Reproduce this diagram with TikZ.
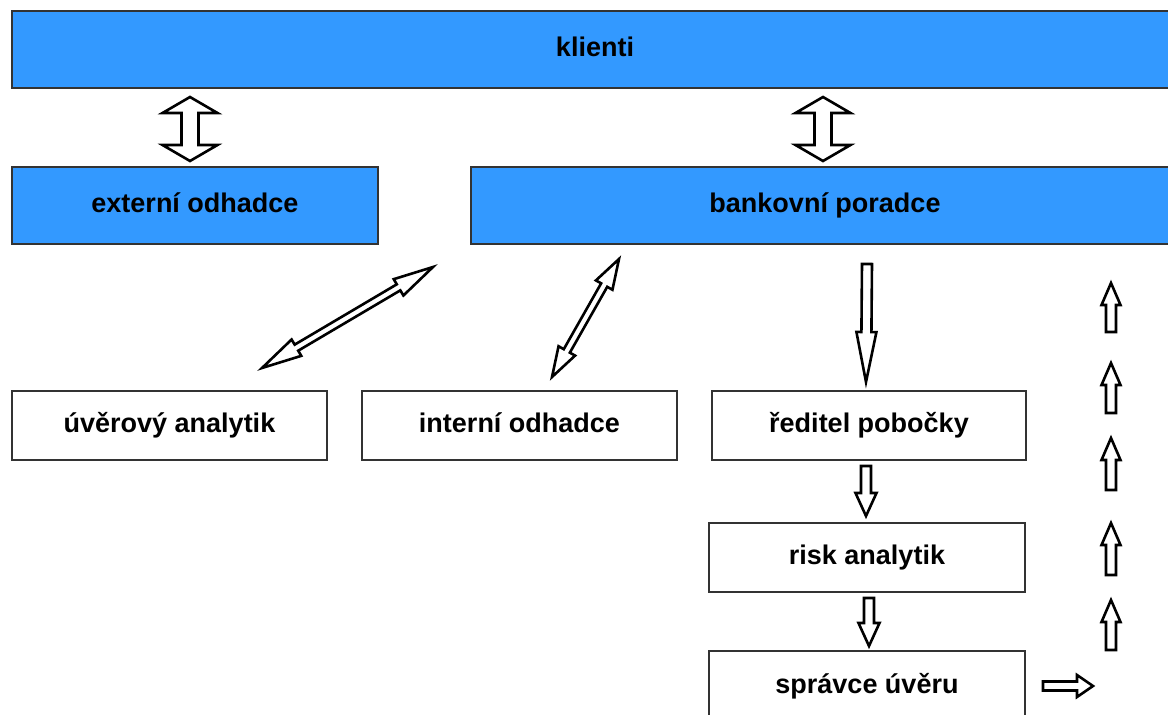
\documentclass[tikz,border=0pt]{standalone}
\usepackage{fontspec}
\setmainfont{Liberation Sans}
\usetikzlibrary{calc}
\definecolor{boxblue}{HTML}{3399FF}
\definecolor{boxedge}{HTML}{333333}

% Outlined block arrow from tail #1 to tip #2:
% #3 shaft half width, #4 head half width, #5 head length
\newcommand{\onewayarrow}[5]{%
  \coordinate (hb) at ($(#2)!#5!(#1)$);
  \draw[blockarrow] ($(#1)!#3!90:(#2)$) -- ($(hb)!#3!90:(#2)$) -- ($(hb)!#4!90:(#2)$)
    -- (#2) -- ($(hb)!#4!-90:(#2)$) -- ($(hb)!#3!-90:(#2)$) -- ($(#1)!#3!-90:(#2)$) -- cycle;
}
% Outlined block arrow with heads at both ends #1 and #2
\newcommand{\twowayarrow}[5]{%
  \coordinate (ha) at ($(#1)!#5!(#2)$);
  \coordinate (hb) at ($(#2)!#5!(#1)$);
  \draw[blockarrow] (#1) -- ($(ha)!#4!90:(#1)$) -- ($(ha)!#3!90:(#1)$)
    -- ($(hb)!#3!-90:(#2)$) -- ($(hb)!#4!-90:(#2)$) -- (#2)
    -- ($(hb)!#4!90:(#2)$) -- ($(hb)!#3!90:(#2)$)
    -- ($(ha)!#3!-90:(#1)$) -- ($(ha)!#4!-90:(#1)$) -- cycle;
}

\begin{document}
\begin{tikzpicture}[x=1pt,y=-1pt,
  box/.style={draw=boxedge, line width=1.3pt, rectangle, inner sep=0pt,
    font=\fontsize{27}{32}\selectfont\bfseries, text=black,
    text height=20pt, text depth=6pt},
  bluebox/.style={box, fill=boxblue},
  whitebox/.style={box, fill=white},
  blockarrow/.style={draw=black, fill=white, line width=2.6pt, line join=miter}]

\useasboundingbox (0,0) rectangle (1168,715);
\clip (0,0) rectangle (1168,715);

% blue role boxes
\node[bluebox, minimum width=1166pt, minimum height=77pt] (klienti) at (595,49.5) {klienti};
\node[bluebox, minimum width=366pt, minimum height=77pt] (externi) at (195,205.5) {externí odhadce};
\node[bluebox, minimum width=708pt, minimum height=77pt] (poradce) at (825,205.5) {bankovní poradce};

% white role boxes
\node[whitebox, minimum width=315pt, minimum height=69pt] (uverovy) at (169.5,425.5) {úvěrový analytik};
\node[whitebox, minimum width=315pt, minimum height=69pt] (interni) at (519.5,425.5) {interní odhadce};
\node[whitebox, minimum width=314pt, minimum height=69pt] (reditel) at (869,425.5) {ředitel pobočky};
\node[whitebox, minimum width=316pt, minimum height=69pt] (risk) at (867,557.5) {risk analytik};
\node[whitebox, minimum width=316pt, minimum height=70pt] (spravce) at (867,686) {správce úvěru};

% arrow end points
\coordinate (k1a) at (190,97);   \coordinate (k1b) at (190,161);
\coordinate (k2a) at (823,97);   \coordinate (k2b) at (823,161);
\coordinate (d1a) at (262,368);  \coordinate (d1b) at (433,267);
\coordinate (d2a) at (552,377);  \coordinate (d2b) at (619,259);
\coordinate (p1a) at (867,264);  \coordinate (p1b) at (866,382);
\coordinate (p2a) at (866,466);  \coordinate (p2b) at (866,516);
\coordinate (p3a) at (869,598);  \coordinate (p3b) at (869,646);
\coordinate (r0a) at (1043,686); \coordinate (r0b) at (1093,686);
\coordinate (u1a) at (1111,332); \coordinate (u1b) at (1111,283);
\coordinate (u2a) at (1111,413); \coordinate (u2b) at (1111,363);
\coordinate (u3a) at (1111,490); \coordinate (u3b) at (1111,438);
\coordinate (u4a) at (1111,575); \coordinate (u4b) at (1111,523);
\coordinate (u5a) at (1111,650); \coordinate (u5b) at (1111,600);

% exchange with the clients
\twowayarrow{k1a}{k1b}{8.5pt}{27.5pt}{16pt}
\twowayarrow{k2a}{k2b}{8.5pt}{27.5pt}{16pt}

% diagonal exchanges
\twowayarrow{d1a}{d1b}{3.5pt}{9.5pt}{40pt}
\twowayarrow{d2a}{d2b}{3.5pt}{9.5pt}{30pt}

% approval chain
\onewayarrow{p1a}{p1b}{5pt}{10pt}{50pt}
\onewayarrow{p2a}{p2b}{5pt}{10.5pt}{23pt}
\onewayarrow{p3a}{p3b}{5pt}{10.5pt}{23pt}
\onewayarrow{r0a}{r0b}{4.5pt}{11pt}{16pt}

% return path
\onewayarrow{u1a}{u1b}{5pt}{9.5pt}{22pt}
\onewayarrow{u2a}{u2b}{5pt}{9.5pt}{22pt}
\onewayarrow{u3a}{u3b}{5pt}{9.5pt}{22pt}
\onewayarrow{u4a}{u4b}{5pt}{9.5pt}{22pt}
\onewayarrow{u5a}{u5b}{5pt}{9.5pt}{22pt}

\end{tikzpicture}
\end{document}
